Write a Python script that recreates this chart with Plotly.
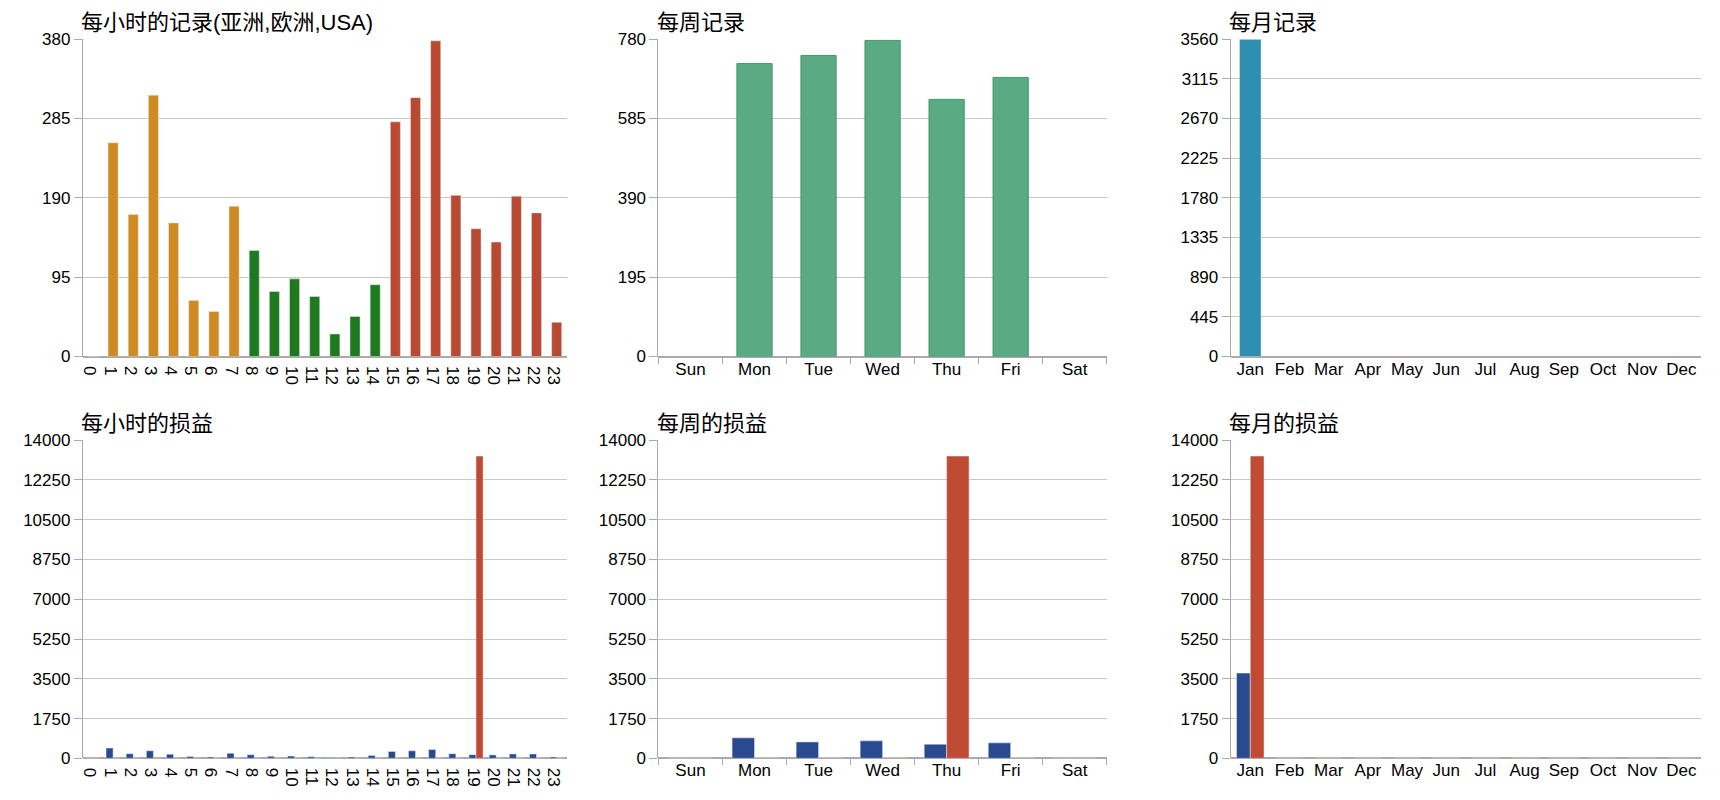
import plotly.graph_objects as go
from plotly.subplots import make_subplots

hours = [str(h) for h in range(24)]
hour_records = [0,256,170,313,160,67,54,180,127,78,93,72,27,48,86,281,310,378,193,153,137,192,172,41]
hour_colors = ["#d08a22"]*8 + ["#1f7a1f"]*7 + ["#b84a32"]*9
days = ["Sun","Mon","Tue","Wed","Thu","Fri","Sat"]
day_records = [None,720,740,777,632,686,None]
months = ["Jan","Feb","Mar","Apr","May","Jun","Jul","Aug","Sep","Oct","Nov","Dec"]
month_records = [3560,None,None,None,None,None,None,None,None,None,None,None]
hour_profit_a = [0,450,200,330,180,80,60,220,160,90,100,70,40,60,120,300,330,390,200,160,150,190,190,60]
hour_profit_b = [0,0,0,0,0,0,0,0,0,0,0,0,0,0,0,0,0,0,0,13300,0,0,0,0]
day_profit_a = [0,900,720,770,620,680,0]
day_profit_b = [0,30,30,30,13300,30,0]
month_profit_a = [3750,0,0,0,0,0,0,0,0,0,0,0]
month_profit_b = [13300,0,0,0,0,0,0,0,0,0,0,0]
titles = ["每小时的记录(亚洲,欧洲,USA)","每周记录","每月记录","每小时的损益","每周的损益","每月的损益"]

fig = make_subplots(rows=2, cols=3)
blue, red = "#2a4a90", "#c04a32"
fig.add_bar(x=hours, y=hour_records, marker_color=hour_colors, width=0.5, row=1, col=1)
fig.add_bar(x=days, y=day_records, marker=dict(color="#5aab84", line=dict(color="#3d9a6a", width=1)), width=0.55, row=1, col=2)
fig.add_bar(x=months, y=month_records, marker_color="#2f8fb0", width=0.55, row=1, col=3)
for col, xs, a, b in [(1, hours, hour_profit_a, hour_profit_b), (2, days, day_profit_a, day_profit_b), (3, months, month_profit_a, month_profit_b)]:
    fig.add_bar(x=xs, y=a, marker_color=blue, row=2, col=col)
    fig.add_bar(x=xs, y=b, marker_color=red, row=2, col=col)

xd = [(0.037,0.322),(0.376,0.640),(0.713,0.990)]
yd = [(0.567,0.984),(0.039,0.457)]
ranges = [[380,780,3560],[14000,14000,14000]]
dticks = [[95,195,445],[1750,1750,1750]]
n = 1
for r in range(2):
    for c in range(3):
        fig.update_xaxes(domain=xd[c], row=r+1, col=c+1, showline=False, tickfont=dict(size=17),
                         ticks="outside" if c == 1 else "", tickson="boundaries" if c == 1 else "labels",
                         tickcolor="#aaa", ticklen=6)
        fig.update_yaxes(domain=yd[r], row=r+1, col=c+1, range=[0, ranges[r][c]], dtick=dticks[r][c],
                         tickformat="d", showline=True, linecolor="#aaa", gridcolor="#c8c8c8",
                         zeroline=True, zerolinecolor="#aaa",
                         ticks="outside", tickcolor="#aaa", ticklen=8, tickfont=dict(size=17))
        fig.add_annotation(text=titles[n-1], xref="paper", yref="paper", x=xd[c][0]-0.002, y=yd[r][1]+0.003,
                           xanchor="left", yanchor="bottom", showarrow=False, font=dict(size=22))
        n += 1

fig.update_layout(width=1720, height=800, showlegend=False, barmode="group", bargap=0.3, bargroupgap=0,
                  plot_bgcolor="white", paper_bgcolor="white", margin=dict(l=10, r=10, t=10, b=10),
                  font=dict(family="Liberation Sans, Noto Sans CJK SC", color="black"))
fig.write_html("out.html")
